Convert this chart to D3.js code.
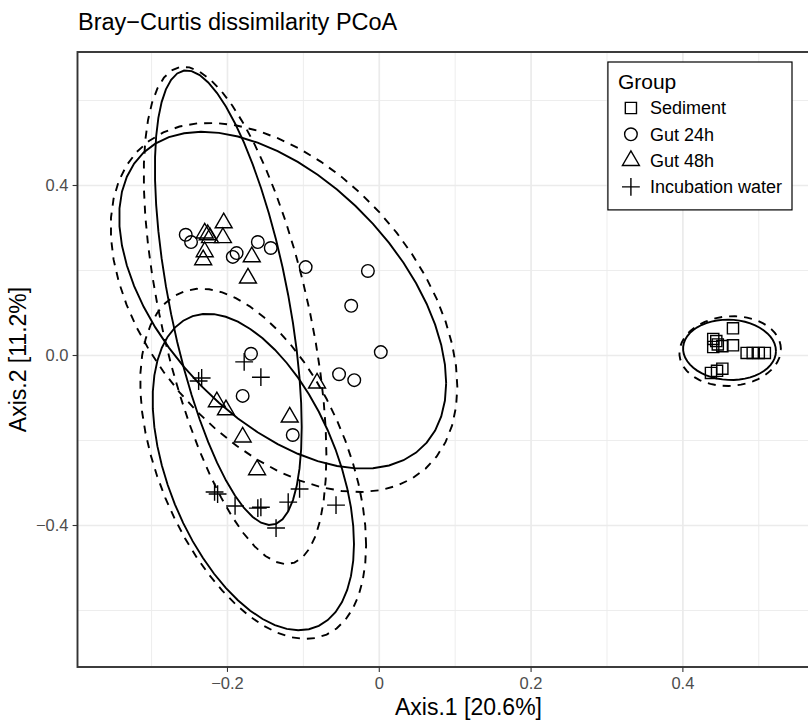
<!DOCTYPE html>
<html>
<head>
<meta charset="utf-8">
<script src="https://cdn.jsdelivr.net/npm/d3@7"></script>
<style>
  body { margin: 0; background: #fff; }
  text { font-family: "Liberation Sans", Arial, Helvetica, sans-serif; }
</style>
</head>
<body>
<div id="chart"></div>
<script>

// PCoA coordinates (Axis.1, Axis.2)
var groups = ["Sediment", "Gut 24h", "Gut 48h", "Incubation water"];

var sedimentAx1 = [0.466, 0.440, 0.444, 0.446, 0.440, 0.452, 0.466, 0.484, 0.492, 0.500, 0.508, 0.437, 0.445, 0.452];
var sedimentAx2 = [0.064, 0.039, 0.034, 0.026, 0.020, 0.022, 0.024, 0.006, 0.006, 0.006, 0.006, -0.041, -0.036, -0.031];

var gut24Ax1 = [-0.255, -0.248, -0.193, -0.188, -0.160, -0.143, -0.097, -0.015, -0.037, 0.002, -0.053, -0.033, -0.169, -0.180, -0.114];
var gut24Ax2 = [0.284, 0.267, 0.232, 0.241, 0.267, 0.253, 0.208, 0.199, 0.117, 0.008, -0.044, -0.058, 0.004, -0.095, -0.187];

var gut48Ax1 = [-0.205, -0.206, -0.230, -0.226, -0.223, -0.230, -0.232, -0.168, -0.173, -0.214, -0.202, -0.180, -0.118, -0.082, -0.161];
var gut48Ax2 = [0.312, 0.277, 0.288, 0.284, 0.277, 0.244, 0.225, 0.232, 0.182, -0.109, -0.128, -0.192, -0.145, -0.065, -0.269];

var waterAx1 = [-0.178, -0.156, -0.238, -0.234, -0.217, -0.213, -0.190, -0.160, -0.156, -0.136, -0.120, -0.105, -0.057];
var waterAx2 = [-0.015, -0.051, -0.060, -0.053, -0.321, -0.326, -0.354, -0.359, -0.357, -0.406, -0.345, -0.314, -0.352];

var xTicks = [-0.2, 0, 0.2, 0.4];
var xTickLabels = ["\u22120.2", "0", "0.2", "0.4"];
var xMinor = [-0.3, -0.1, 0.1, 0.3, 0.5];
var yTicks = [-0.4, 0, 0.4];
var yTickLabels = ["\u22120.4", "0.0", "0.4"];
var yMinor = [-0.6, -0.2, 0.2, 0.6];

var groupAx1 = [sedimentAx1, gut24Ax1, gut48Ax1, waterAx1];
var groupAx2 = [sedimentAx2, gut24Ax2, gut48Ax2, waterAx2];

// panel box (the picture is cut on the right, panel runs past 808)
var W = 808, H = 721;
var panel = {left: 77.5, top: 52, right: 859.5, bottom: 667};

var svg = d3.select("#chart")
  .append("svg")
    .attr("width", W)
    .attr("height", H);

var x = d3.scaleLinear()
  .domain([-0.3976, 0.6327])
  .range([panel.left, panel.right]);
var y = d3.scaleLinear()
  .domain([-0.7329, 0.7141])
  .range([panel.bottom, panel.top]);

svg.append("defs").append("clipPath")
    .attr("id", "clip")
  .append("rect")
    .attr("x", panel.left)
    .attr("y", panel.top)
    .attr("width", panel.right - panel.left)
    .attr("height", panel.bottom - panel.top);

var plot = svg.append("g").attr("clip-path", "url(#clip)");

// grid
plot.selectAll(".vminor").data(xMinor).enter().append("line")
  .attr("x1", d => x(d)).attr("x2", d => x(d))
  .attr("y1", panel.top).attr("y2", panel.bottom)
  .attr("stroke", "#ebebeb").attr("stroke-width", 0.9);
plot.selectAll(".hminor").data(yMinor).enter().append("line")
  .attr("y1", d => y(d)).attr("y2", d => y(d))
  .attr("x1", panel.left).attr("x2", panel.right)
  .attr("stroke", "#ebebeb").attr("stroke-width", 0.9);
plot.selectAll(".vmajor").data(xTicks).enter().append("line")
  .attr("x1", d => x(d)).attr("x2", d => x(d))
  .attr("y1", panel.top).attr("y2", panel.bottom)
  .attr("stroke", "#ebebeb").attr("stroke-width", 1.7);
plot.selectAll(".hmajor").data(yTicks).enter().append("line")
  .attr("y1", d => y(d)).attr("y2", d => y(d))
  .attr("x1", panel.left).attr("x2", panel.right)
  .attr("stroke", "#ebebeb").attr("stroke-width", 1.7);

// --- ellipses, same recipe as ggplot2 stat_ellipse (level 0.95) ---
function covNorm(pts) {
  var n = pts.length;
  var c = [d3.mean(pts, d => d[0]), d3.mean(pts, d => d[1])];
  var a = 0, b = 0, e = 0;
  pts.forEach(function(d) {
    var u = d[0] - c[0], v = d[1] - c[1];
    a += u * u; b += u * v; e += v * v;
  });
  return {center: c, cov: [a / (n - 1), b / (n - 1), e / (n - 1)]};
}

// MASS::cov.trob, nu = 5
function covTrob(pts) {
  var n = pts.length, p = 2, nu = 5;
  var loc = [d3.mean(pts, d => d[0]), d3.mean(pts, d => d[1])];
  var w = pts.map(() => 1), X;
  for (var iter = 0; iter < 25; iter++) {
    var w0 = w.slice();
    X = pts.map(d => [d[0] - loc[0], d[1] - loc[1]]);
    var sw = d3.sum(w), a = 0, b = 0, e = 0;
    X.forEach(function(v, i) {
      a += w[i] * v[0] * v[0] / sw;
      b += w[i] * v[0] * v[1] / sw;
      e += w[i] * v[1] * v[1] / sw;
    });
    var det = a * e - b * b;
    w = X.map(v => (nu + p) / (nu + (e * v[0] * v[0] - 2 * b * v[0] * v[1] + a * v[1] * v[1]) / det));
    var sw2 = d3.sum(w);
    loc = [d3.sum(pts, (d, i) => w[i] * d[0]) / sw2, d3.sum(pts, (d, i) => w[i] * d[1]) / sw2];
    if (d3.max(w, (v, i) => Math.abs(v - w0[i])) < 0.01) break;
  }
  var s11 = 0, s12 = 0, s22 = 0;
  X.forEach(function(v, i) {
    s11 += w[i] * v[0] * v[0]; s12 += w[i] * v[0] * v[1]; s22 += w[i] * v[1] * v[1];
  });
  return {center: loc, cov: [s11 / n, s12 / n, s22 / n]};
}

function ellipsePoints(est, n) {
  var dfd = n - 1;
  var q = dfd / 2 * (Math.pow(0.05, -2 / dfd) - 1);   // qf(0.95, 2, dfd)
  var r = Math.sqrt(2 * q);
  var r11 = Math.sqrt(est.cov[0]);
  var r12 = est.cov[1] / r11;
  var r22 = Math.sqrt(est.cov[2] - r12 * r12);
  var out = [];
  for (var k = 0; k <= 51; k++) {
    var t = k * 2 * Math.PI / 51, c = Math.cos(t), s = Math.sin(t);
    out.push([est.center[0] + r * c * r11, est.center[1] + r * (c * r12 + s * r22)]);
  }
  return out;
}

var line = d3.line().x(d => x(d[0])).y(d => y(d[1]));

groups.forEach(function(g, i) {
  var pts = groupAx1[i].map((v, j) => [v, groupAx2[i][j]]);
  plot.append("path")
    .attr("d", line(ellipsePoints(covTrob(pts), pts.length)))
    .attr("fill", "none")
    .attr("stroke", "#000")
    .attr("stroke-width", 1.9);
  plot.append("path")
    .attr("d", line(ellipsePoints(covNorm(pts), pts.length)))
    .attr("fill", "none")
    .attr("stroke", "#000")
    .attr("stroke-width", 1.9)
    .attr("stroke-dasharray", "8,7");
});

// point shapes (pch 0, 1, 2, 3)
var rad = 6.3;
function shapePath(i) {
  if (i == 0) { var h = rad * 0.886; return "M" + (-h) + "," + (-h) + "H" + h + "V" + h + "H" + (-h) + "Z"; }
  if (i == 1) return "M" + rad + ",0A" + rad + "," + rad + " 0 1,1 " + (-rad) + ",0A" + rad + "," + rad + " 0 1,1 " + rad + ",0Z";
  if (i == 2) { var r = rad * 1.555; return "M0," + (-r) + "L" + (r * 0.866) + "," + (r / 2) + "L" + (-r * 0.866) + "," + (r / 2) + "Z"; }
  var a = rad * 1.414;
  return "M" + (-a) + ",0H" + a + "M0," + (-a) + "V" + a;
}

groups.forEach(function(g, i) {
  plot.append("g")
    .selectAll("path")
    .data(groupAx1[i].map((v, j) => [v, groupAx2[i][j]]))
    .enter()
    .append("path")
      .attr("transform", d => "translate(" + x(d[0]) + "," + y(d[1]) + ")")
      .attr("d", shapePath(i))
      .attr("fill", "none")
      .attr("stroke", "#000")
      .attr("stroke-width", 1.4);
});

// legend inside the panel, top right
var lg = svg.append("g");
var legendRight = 792, legendTop = 62, rowH = 26.3;
var txt = lg.selectAll(".ltxt").data(groups).enter().append("text")
  .attr("y", (d, i) => legendTop + 46 + i * rowH + 6.3)
  .attr("font-size", 18)
  .attr("fill", "#000")
  .text(d => d);
var maxW = d3.max(txt.nodes(), n => n.getComputedTextLength());
var textX = legendRight - 10 - maxW;
txt.attr("x", textX);
var keyX = textX - 6 - 13;
var legendLeft = keyX - 13 - 10;
lg.insert("rect", ":first-child")
  .attr("x", legendLeft)
  .attr("y", legendTop)
  .attr("width", legendRight - legendLeft)
  .attr("height", 46 + 3 * rowH + 13 + 10)
  .attr("fill", "#fff")
  .attr("stroke", "#000")
  .attr("stroke-width", 1.2);
lg.append("text")
  .attr("x", legendLeft + 10)
  .attr("y", legendTop + 27)
  .attr("font-size", 21)
  .attr("fill", "#000")
  .text("Group");
groups.forEach(function(g, i) {
  lg.append("path")
    .attr("transform", "translate(" + keyX + "," + (legendTop + 46 + i * rowH) + ")")
    .attr("d", shapePath(i))
    .attr("fill", "none")
    .attr("stroke", "#000")
    .attr("stroke-width", 1.4);
});

// panel border
svg.append("rect")
  .attr("x", panel.left)
  .attr("y", panel.top)
  .attr("width", panel.right - panel.left)
  .attr("height", panel.bottom - panel.top)
  .attr("fill", "none")
  .attr("stroke", "#333333")
  .attr("stroke-width", 1.9);

// axes
svg.selectAll(".xt").data(xTicks).enter().append("line")
  .attr("x1", d => x(d)).attr("x2", d => x(d))
  .attr("y1", panel.bottom).attr("y2", panel.bottom + 4.9)
  .attr("stroke", "#333333").attr("stroke-width", 1.1);
svg.selectAll(".xl").data(xTicks).enter().append("text")
  .attr("x", d => x(d))
  .attr("y", 689)
  .attr("text-anchor", "middle")
  .attr("font-size", 16.5)
  .attr("fill", "#4d4d4d")
  .text((d, i) => xTickLabels[i]);

svg.selectAll(".yt").data(yTicks).enter().append("line")
  .attr("y1", d => y(d)).attr("y2", d => y(d))
  .attr("x1", panel.left - 4.9).attr("x2", panel.left)
  .attr("stroke", "#333333").attr("stroke-width", 1.1);
svg.selectAll(".yl").data(yTicks).enter().append("text")
  .attr("x", 68.5)
  .attr("y", d => y(d))
  .attr("dy", "0.36em")
  .attr("text-anchor", "end")
  .attr("font-size", 16.5)
  .attr("fill", "#4d4d4d")
  .text((d, i) => yTickLabels[i]);

// titles
svg.append("text")
  .attr("x", 78)
  .attr("y", 29.5)
  .attr("font-size", 23.5)
  .attr("fill", "#000")
  .text("Bray\u2212Curtis dissimilarity PCoA");

svg.append("text")
  .attr("x", (panel.left + panel.right) / 2)
  .attr("y", 715)
  .attr("text-anchor", "middle")
  .attr("font-size", 23)
  .attr("fill", "#000")
  .text("Axis.1 [20.6%]");

svg.append("text")
  .attr("transform", "translate(26," + ((panel.top + panel.bottom) / 2) + ") rotate(-90)")
  .attr("text-anchor", "middle")
  .attr("font-size", 23)
  .attr("fill", "#000")
  .text("Axis.2 [11.2%]");

</script>
</body>
</html>
